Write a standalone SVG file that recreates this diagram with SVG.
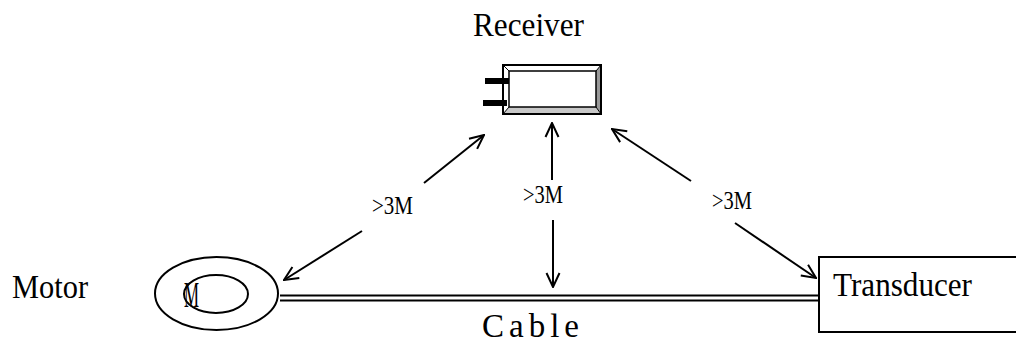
<svg xmlns="http://www.w3.org/2000/svg" width="1016" height="342" viewBox="0 0 1016 342">
<style>
  .t { font-family: "Liberation Serif", "Times New Roman", serif; fill: #000; }
  .big { font-size: 33px; }
  .lbl { font-size: 25px; }
  .ln { stroke: #000; stroke-width: 2; fill: none; }
  .arr { stroke: #000; stroke-width: 2; fill: none; marker-end: url(#open); }
</style>
<defs>
  <marker id="open" viewBox="0 0 16 16" refX="15" refY="8" markerWidth="16" markerHeight="16" markerUnits="userSpaceOnUse" orient="auto">
    <path d="M1,1.5 L15,8 L1,14.5" fill="none" stroke="#000" stroke-width="2"/>
  </marker>
</defs>
<rect width="1016" height="342" fill="#fff"/>

<g id="receiver">
  <text class="t big" x="473" y="36" textLength="111" lengthAdjust="spacingAndGlyphs">Receiver</text>
  <rect x="485" y="78" width="24" height="6" fill="#000"/>
  <rect x="483" y="100" width="24" height="6" fill="#000"/>
  <polygon points="596,71 601,65 601,114 596,107" fill="#999"/>
  <polygon points="509,107 596,107 601,114 503,114" fill="#c8c8c8"/>
  <rect x="503" y="65" width="98" height="49" fill="none" stroke="#000" stroke-width="2"/>
  <rect x="509" y="71" width="87" height="36" fill="#fff" stroke="#000" stroke-width="1.5"/>
  <path d="M503,65 L509,71 M601,65 L596,71 M601,114 L596,107 M503,114 L509,107" stroke="#000" stroke-width="1"/>
</g>

<g id="motor">
  <text class="t big" x="12" y="298" textLength="76" lengthAdjust="spacingAndGlyphs">Motor</text>
  <ellipse cx="216.5" cy="293.5" rx="61.5" ry="36.5" class="ln"/>
  <ellipse cx="216" cy="294" rx="32" ry="19" class="ln"/>
  <text class="t" x="184" y="307" font-size="36" textLength="15" lengthAdjust="spacingAndGlyphs">M</text>
</g>

<g id="transducer">
  <rect x="819" y="257" width="205" height="75" fill="#fff" stroke="#000" stroke-width="2"/>
  <text class="t big" x="833" y="296" textLength="139" lengthAdjust="spacingAndGlyphs">Transducer</text>
</g>

<g id="cable">
  <line x1="280" y1="295.5" x2="819" y2="295.5" class="ln"/>
  <line x1="280" y1="300.5" x2="819" y2="300.5" class="ln"/>
  <text class="t big" x="482" y="337" textLength="97" lengthAdjust="spacing">Cable</text>
</g>

<g id="connectors">
  <line x1="424" y1="183" x2="484" y2="135" class="arr"/>
  <line x1="362" y1="231" x2="284" y2="280" class="arr"/>
  <line x1="552" y1="180" x2="552" y2="123" class="arr"/>
  <line x1="553" y1="220" x2="553" y2="287" class="arr"/>
  <line x1="691" y1="181" x2="612" y2="129" class="arr"/>
  <line x1="735" y1="223" x2="816" y2="278" class="arr"/>
</g>

<g id="labels">
  <text class="t lbl" x="372" y="214" textLength="41" lengthAdjust="spacingAndGlyphs">&gt;3M</text>
  <text class="t lbl" x="523" y="203" textLength="40" lengthAdjust="spacingAndGlyphs">&gt;3M</text>
  <text class="t lbl" x="712" y="209" textLength="40" lengthAdjust="spacingAndGlyphs">&gt;3M</text>
</g>
</svg>
